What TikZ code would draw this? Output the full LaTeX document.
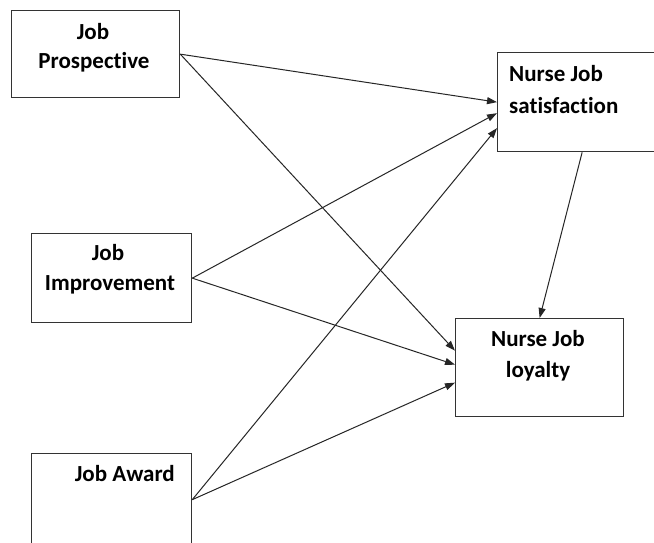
\documentclass[tikz,border=0pt]{standalone}
\usepackage{fontspec}
\setmainfont[Ligatures={NoCommon}]{Carlito}
\usetikzlibrary{arrows.meta}
\begin{document}
\begin{tikzpicture}[x=1pt,y=-1pt,
  box/.style={draw=black!80,line width=1.3pt,rectangle,inner sep=0pt,anchor=north west},
  lbl/.style={font=\fontsize{23}{23}\selectfont\bfseries,inner sep=0pt},
  conn/.style={draw=black!85,line width=1pt,-{Triangle[length=10pt,width=7pt]}}]
\clip (0,0) rectangle (654,542);
\fill[white] (0,0) rectangle (654,542);
% boxes
\node[box,minimum width=168pt,minimum height=87pt] (jp) at (11,10) {};
\node[box,minimum width=163pt,minimum height=99pt] (sat) at (497,52) {};
\node[box,minimum width=160pt,minimum height=89pt] (ji) at (31,233) {};
\node[box,minimum width=168pt,minimum height=98pt] (loy) at (455,318) {};
\node[box,minimum width=160pt,minimum height=92pt] (ja) at (31,453) {};
% texts
\node[lbl] (t1) at (93,32) {Job};
\node[lbl] (t2) at (94,62) {Prospective};
\node[lbl,anchor=west] (t3) at (509,74) {Nurse Job};
\node[lbl,anchor=west] (t4) at (509,106) {satisfaction};
\node[lbl] (t5) at (108,253) {Job};
\node[lbl] (t6) at (110,285) {Improvement};
\node[lbl] (t7) at (538,339) {Nurse Job};
\node[lbl] (t8) at (538,371) {loyalty};
\node[lbl,anchor=east] (t9) at (175,474) {Job Award};
% connectors
\draw[conn] (jp.east) -- (sat.west);
\draw[conn] (jp.east) -- ([yshift=17pt]loy.west);
\draw[conn] (ji.east) -- ([yshift=-11pt]sat.west);
\draw[conn] (ji.east) -- ([yshift=3pt]loy.west);
\draw[conn] (ja.east) -- ([yshift=-26pt]sat.west);
\draw[conn] (ja.east) -- ([yshift=-15pt]loy.west);
\draw[conn] ([xshift=3pt]sat.south) -- (loy.north);
\end{tikzpicture}
\end{document}
